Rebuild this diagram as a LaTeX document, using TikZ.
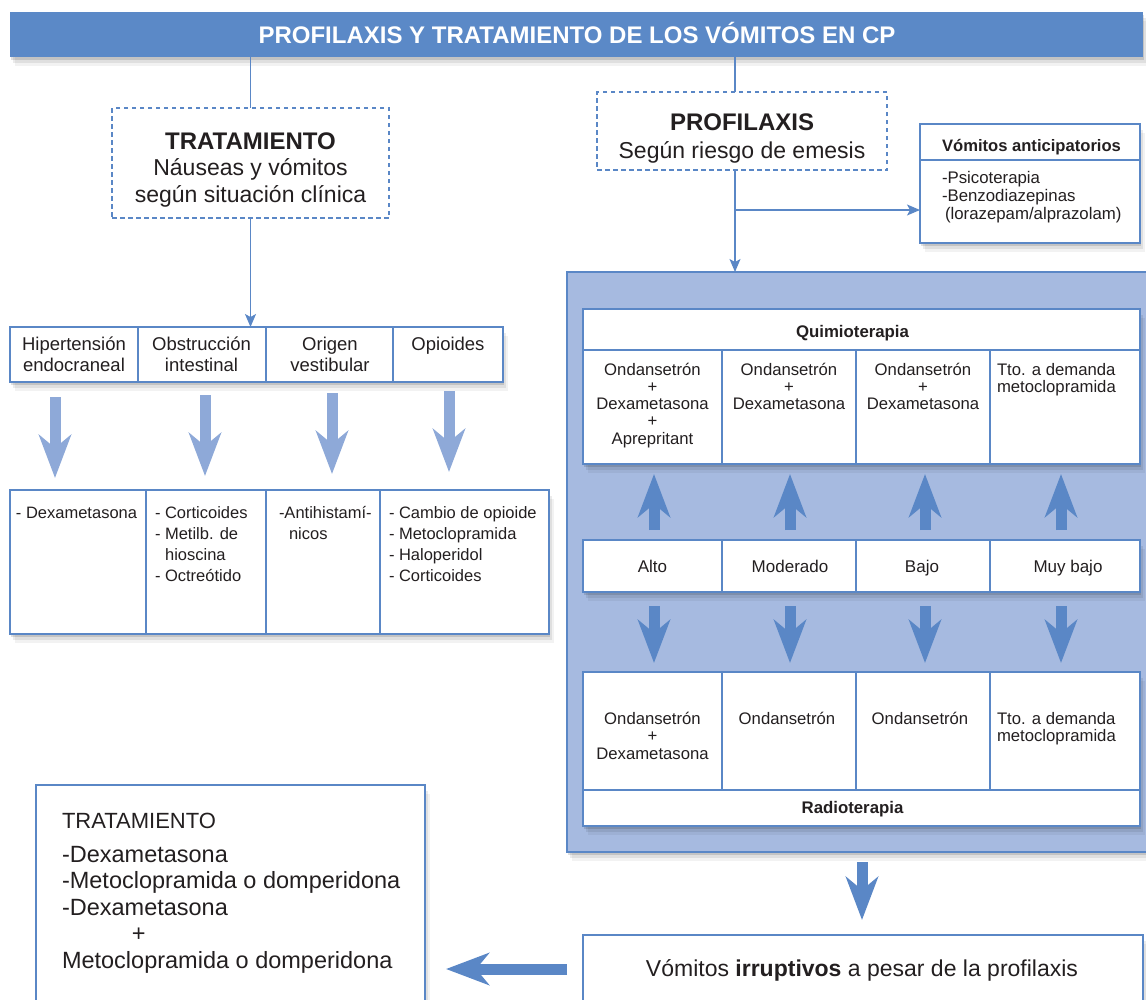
\documentclass[tikz,border=0pt]{standalone}
\usepackage{fontspec}
\setmainfont{Liberation Sans}
\usetikzlibrary{arrows.meta,shadows}
\definecolor{hdrblue}{HTML}{5B89C7}
\definecolor{lineblue}{HTML}{5A87C6}
\definecolor{lightarrow}{HTML}{8EA9D8}
\definecolor{regionfill}{HTML}{A6BAE0}
\definecolor{txtcol}{HTML}{231F20}
\newcommand{\fsz}[2]{\fontsize{#1}{#2}\selectfont}
\tikzset{
  softshadow/.style={
    drop shadow={opacity=0.12, shadow xshift=1pt, shadow yshift=-3pt, fill=black},
    drop shadow={opacity=0.08, shadow xshift=3pt, shadow yshift=-6pt, fill=black},
    drop shadow={opacity=0.05, shadow xshift=5pt, shadow yshift=-9pt, fill=black}},
  wbox/.style={draw=lineblue, fill=white, line width=1.4pt, inner sep=0pt, outer sep=0pt, anchor=north west, rectangle},
  cell/.style={draw=lineblue, line width=1.2pt, inner sep=0pt, outer sep=0pt, anchor=north west, rectangle},
  dbox/.style={draw=lineblue, dash pattern=on 4.5pt off 3.5pt, line width=1.8pt, fill=white, inner sep=0pt, outer sep=0pt, anchor=north west, rectangle},
  txt/.style={text=txtcol, inner sep=0pt, outer sep=0pt, anchor=base, align=center},
  ltxt/.style={text=txtcol, inner sep=0pt, outer sep=0pt, anchor=base west, align=left},
  thin/.style={draw=lineblue, line width=1.2pt},
  thinarr/.style={thin, -{Stealth[length=13pt, width=11pt, inset=3pt]}},
  lightarr/.style={draw=lightarrow, line width=11pt, -{Stealth[length=43pt, width=32pt, inset=13pt]}},
  darkarr/.style={draw=lineblue, line width=11pt, -{Stealth[length=43pt, width=32pt, inset=13pt]}},
}
\begin{document}
\begin{tikzpicture}[x=1pt, y=-1pt]
\useasboundingbox (0,0) rectangle (1146,999);

% header
\node[rectangle, fill=hdrblue, inner sep=0pt, outer sep=0pt, anchor=north west, minimum width=1133pt, minimum height=45pt, softshadow] (hdr) at (10,12) {};
\node[txt, text=white, font=\fsz{24}{28}\bfseries] (hdrt) at (577,43.5) {PROFILAXIS Y TRATAMIENTO DE LOS VÓMITOS EN CP};

% ---------------- left branch ----------------
\node[dbox, minimum width=277pt, minimum height=110pt] (trat) at (112,108) {};
\node[txt, font=\fsz{23}{26.5}] (tratt) at (250.5,202) {{\fsz{24}{26.5}\bfseries TRATAMIENTO}\\Náuseas y vómitos\\según situación clínica};

% left header table
\node[wbox, softshadow, minimum width=493pt, minimum height=55pt] (lt) at (10,327) {};
\node[cell, minimum width=128pt, minimum height=55pt] (h1) at (10,327) {};
\node[cell, minimum width=128pt, minimum height=55pt] (h2) at (138,327) {};
\node[cell, minimum width=127pt, minimum height=55pt] (h3) at (266,327) {};
\node[cell, minimum width=110pt, minimum height=55pt] (h4) at (393,327) {};
\node[txt, font=\fsz{18.5}{21}] (ht1) at (74,371.5) {Hipertensión\\endocraneal};
\node[txt, font=\fsz{18.5}{21}] (ht2) at (201.5,371.5) {Obstrucción\\intestinal};
\node[txt, font=\fsz{18.5}{21}] (ht3) at (330,371.5) {Origen\\vestibular};
\node[txt, font=\fsz{18.5}{21}] (ht4) at (448,350.5) {Opioides};

% left arrows
\coordinate (la1s) at (55,397); \coordinate (la1e) at (55,478);
\coordinate (la2s) at (205,395); \coordinate (la2e) at (205,476);
\coordinate (la3s) at (332,393); \coordinate (la3e) at (332,474);
\coordinate (la4s) at (449,391); \coordinate (la4e) at (449,472);
\draw[lightarr] (la1s) -- (la1e);
\draw[lightarr] (la2s) -- (la2e);
\draw[lightarr] (la3s) -- (la3e);
\draw[lightarr] (la4s) -- (la4e);

% left bottom table
\node[wbox, softshadow, minimum width=539pt, minimum height=144pt] (lb) at (10,490) {};
\node[cell, minimum width=136pt, minimum height=144pt] (b1) at (10,490) {};
\node[cell, minimum width=120pt, minimum height=144pt] (b2) at (146,490) {};
\node[cell, minimum width=114pt, minimum height=144pt] (b3) at (266,490) {};
\node[cell, minimum width=169pt, minimum height=144pt] (b4) at (380,490) {};
\node[ltxt, font=\fsz{16.5}{21}] (bt1) at (16,518.5) {- Dexametasona};
\node[ltxt, font=\fsz{16.5}{21}] (bt2) at (155,581.5) {- Corticoides\\- Metilb. de\\\hphantom{- }hioscina\\- Octreótido};
\node[ltxt, font=\fsz{16.5}{21}] (bt3) at (279,539.5) {-Antihistamí-\\\hspace*{10pt}nicos};
\node[ltxt, font=\fsz{16.5}{21}] (bt4) at (389,581.5) {- Cambio de opioide\\- Metoclopramida\\- Haloperidol\\- Corticoides};

% ---------------- right branch ----------------
\node[dbox, minimum width=290pt, minimum height=78pt] (prof) at (597,92) {};
\node[txt, font=\fsz{23}{28}] (proft) at (742,158) {{\fsz{24}{28}\bfseries PROFILAXIS}\\Según riesgo de emesis};

% anticipatory
\node[wbox, softshadow, minimum width=220pt, minimum height=119pt] (antic) at (920,124) {};
\node[cell, minimum width=220pt, minimum height=36pt] (antich) at (920,124) {};
\node[txt, font=\fsz{16.6}{18}\bfseries] (antict) at (1031.5,151.5) {Vómitos anticipatorios};
\node[ltxt, font=\fsz{16.8}{18}] (antici) at (942,219.5) {-Psicoterapia\\-Benzodiazepinas\\\hspace*{3pt}(lorazepam/alprazolam)};

% region
\node[rectangle, draw=lineblue, line width=1.4pt, fill=regionfill, inner sep=0pt, outer sep=0pt, anchor=north west, minimum width=600pt, minimum height=580pt, softshadow] (reg) at (567,272) {};

% quimioterapia table
\node[wbox, softshadow, minimum width=557pt, minimum height=155pt] (q) at (583,309) {};
\node[cell, minimum width=557pt, minimum height=41pt] (qh) at (583,309) {};
\node[cell, minimum width=139pt, minimum height=114pt] (qc1) at (583,350) {};
\node[cell, minimum width=134pt, minimum height=114pt] (qc2) at (722,350) {};
\node[cell, minimum width=134pt, minimum height=114pt] (qc3) at (856,350) {};
\node[cell, minimum width=150pt, minimum height=114pt] (qc4) at (990,350) {};
\node[txt, font=\fsz{16.8}{18}\bfseries] (qht) at (852.5,337) {Quimioterapia};
\node[txt, font=\fsz{16.7}{17.3}] (qt1) at (652.5,444.2) {Ondansetrón\\+\\Dexametasona\\+\\Aprepritant};
\node[txt, font=\fsz{16.7}{17.3}] (qt2) at (789,409.6) {Ondansetrón\\+\\Dexametasona};
\node[txt, font=\fsz{16.7}{17.3}] (qt3) at (923,409.6) {Ondansetrón\\+\\Dexametasona};
\node[ltxt, font=\fsz{16.7}{17.5}] (qt4) at (997,392.5) {Tto. a demanda\\metoclopramida};

% risk row
\node[wbox, softshadow, minimum width=557pt, minimum height=52pt] (r) at (583,540) {};
\node[cell, minimum width=139pt, minimum height=52pt] (r1) at (583,540) {};
\node[cell, minimum width=134pt, minimum height=52pt] (r2) at (722,540) {};
\node[cell, minimum width=134pt, minimum height=52pt] (r3) at (856,540) {};
\node[cell, minimum width=150pt, minimum height=52pt] (r4) at (990,540) {};
\node[txt, font=\fsz{17}{20}] (rt1) at (652.5,572) {Alto};
\node[txt, font=\fsz{17}{20}] (rt2) at (790,572) {Moderado};
\node[txt, font=\fsz{17}{20}] (rt3) at (922,572) {Bajo};
\node[txt, font=\fsz{17}{20}] (rt4) at (1068,572) {Muy bajo};

% radioterapia table
\node[wbox, softshadow, minimum width=557pt, minimum height=154pt] (rd) at (583,672) {};
\node[cell, minimum width=139pt, minimum height=118pt] (rc1) at (583,672) {};
\node[cell, minimum width=134pt, minimum height=118pt] (rc2) at (722,672) {};
\node[cell, minimum width=134pt, minimum height=118pt] (rc3) at (856,672) {};
\node[cell, minimum width=150pt, minimum height=118pt] (rc4) at (990,672) {};
\node[cell, minimum width=557pt, minimum height=36pt] (rf) at (583,790) {};
\node[txt, font=\fsz{16.7}{17.5}] (rdt1) at (652.5,759) {Ondansetrón\\+\\Dexametasona};
\node[txt, font=\fsz{16.7}{17.5}] (rdt2) at (787,724) {Ondansetrón};
\node[txt, font=\fsz{16.7}{17.5}] (rdt3) at (920,724) {Ondansetrón};
\node[ltxt, font=\fsz{16.7}{17.5}] (rdt4) at (997,741.5) {Tto. a demanda\\metoclopramida};
\node[txt, font=\fsz{16.8}{18}\bfseries] (rft) at (852.5,813) {Radioterapia};

% up and down arrows
\foreach \i/\xx in {1/654,2/790,3/925,4/1061}{
  \coordinate (ua\i s) at (\xx,530);
  \coordinate (ua\i e) at (\xx,474);
  \draw[darkarr] (ua\i s) -- (ua\i e);
  \coordinate (da\i s) at (\xx,606);
  \coordinate (da\i e) at (\xx,663);
  \draw[darkarr] (da\i s) -- (da\i e);
}

% bottom
\coordinate (ba1) at (862,862); \coordinate (ba2) at (862,920);
\draw[darkarr] (ba1) -- (ba2);
\node[wbox, softshadow, minimum width=560pt, minimum height=90pt] (irr) at (583,935) {};
\node[txt, font=\fsz{23}{26}] (irrt) at (862,976) {Vómitos \textbf{irruptivos} a pesar de la profilaxis};

\node[wbox, softshadow, minimum width=389pt, minimum height=240pt] (bl) at (36,785) {};
\node[ltxt, font=\fsz{22}{26.5}] (blt) at (62,828) {TRATAMIENTO};
\node[ltxt, font=\fsz{23.5}{26.5}] (bll) at (62,968) {-Dexametasona\\-Metoclopramida o domperidona\\-Dexametasona\\\hspace*{70pt}+\\Metoclopramida o domperidona};

\coordinate (lar1) at (567,969);
\coordinate (lar2) at (446,969);
\draw[darkarr] (lar1) -- (lar2);

% connectors
\draw[thin] (hdr.south -| trat.north) -- (trat.north);
\draw[thinarr] (trat.south) -- (trat.south |- lt.north);
\coordinate (pb) at (735,92);
\coordinate (pc) at (735,170);
\coordinate (pd) at (735,210);
\draw[thin] (hdr.south -| pb) -- (pb);
\draw[thinarr] (pc) -- (pc |- reg.north);
\draw[thinarr] (pd) -- (pd -| antic.west);
\end{tikzpicture}
\end{document}
